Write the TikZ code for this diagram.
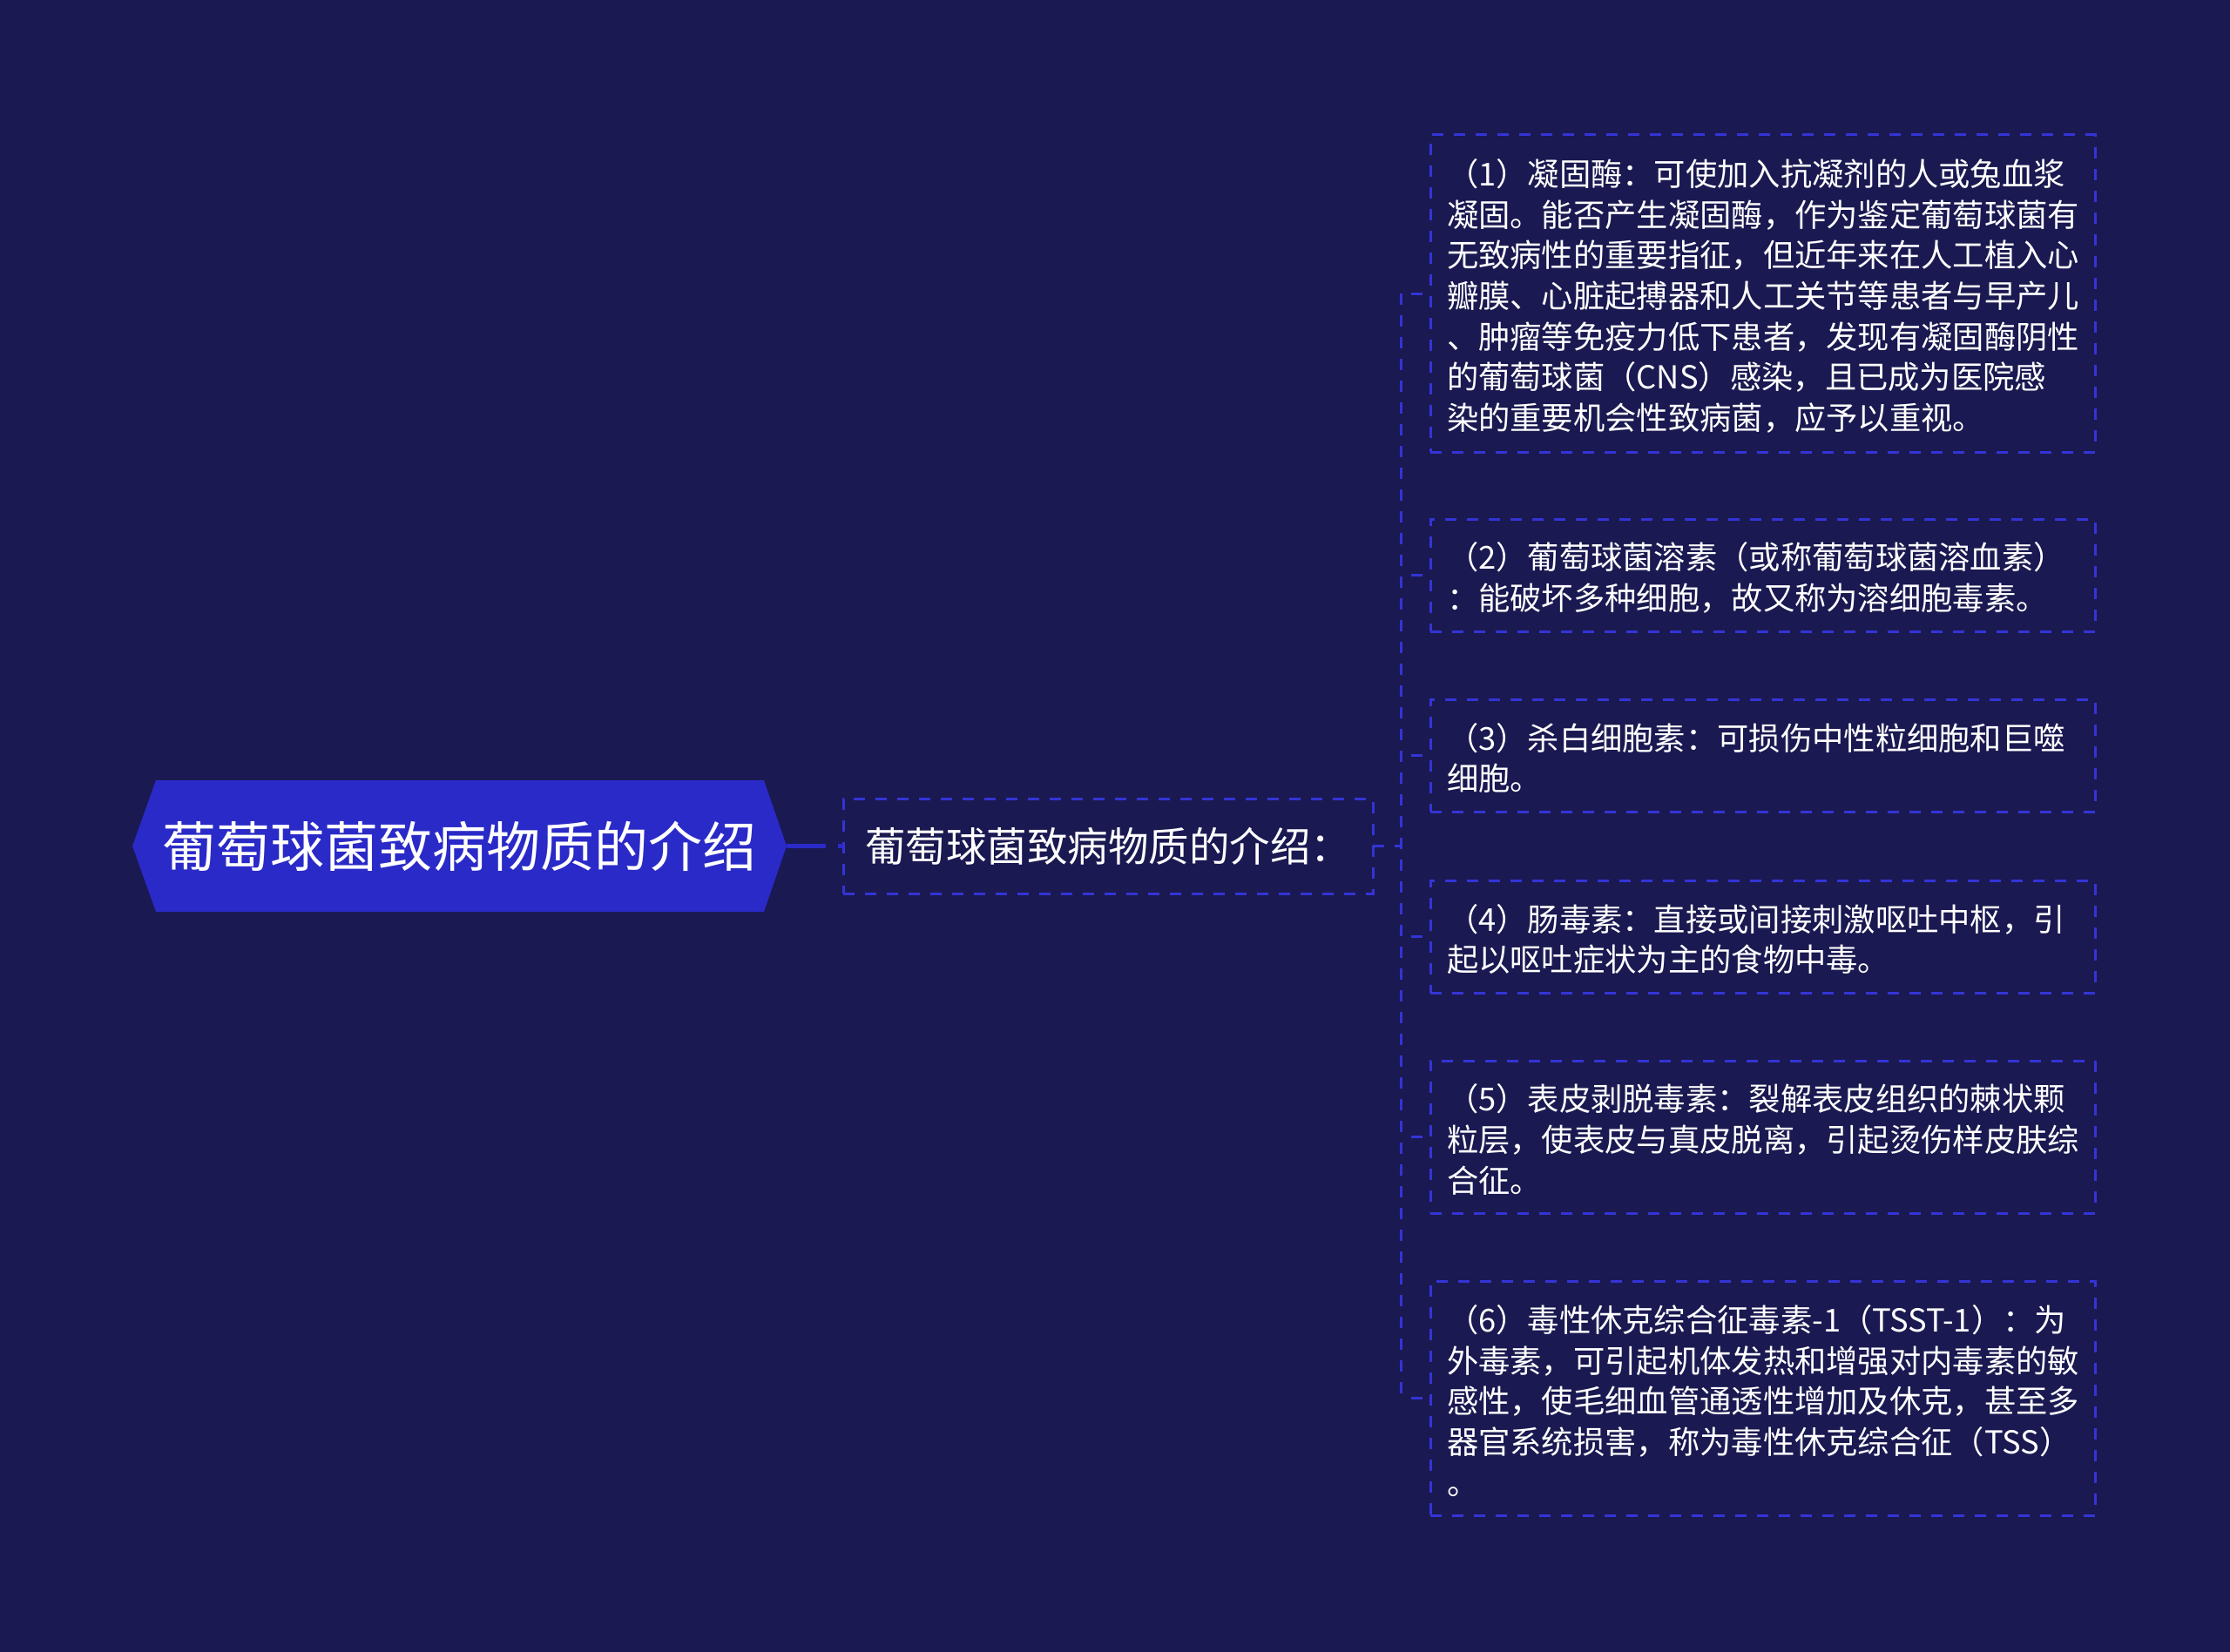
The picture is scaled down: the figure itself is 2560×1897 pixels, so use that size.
\documentclass[tikz,border=0pt]{standalone}
\usepackage{fontspec}
\setmainfont{Noto Sans CJK SC}
\usetikzlibrary{backgrounds}
\definecolor{bgc}{RGB}{26,25,81}
\definecolor{rootc}{RGB}{42,42,200}
\definecolor{dashc}{RGB}{52,52,214}
\newcommand\firststrut{\rule{0pt}{37pt}}
\tikzset{
  dashline/.style={draw=dashc, line width=3pt, dash pattern=on 13pt off 12pt},
  roottext/.style={text=white, inner sep=0pt, outer sep=0pt, minimum width=751pt, minimum height=151pt, font=\fontsize{62pt}{74pt}\selectfont},
  subbox/.style={dashline, text=white, inner sep=0pt, outer sep=0pt, minimum width=608pt, minimum height=109pt, font=\fontsize{46.5pt}{56pt}\selectfont},
  childbox/.style={dashline, text=white, align=left, text width=725pt, inner xsep=19pt, inner ysep=0pt, outer sep=0pt, minimum width=763pt, anchor=north west, font=\fontsize{36.3pt}{46.7pt}\selectfont},
  rootconn/.style={draw=rootc, line width=5pt, dash pattern=on 45pt off 14pt on 6pt off 10pt},
  stub/.style={dashline, dash phase=13pt}
}
\begin{document}
\begin{tikzpicture}[x=1pt,y=-1pt]
\useasboundingbox (0,0) rectangle (2560,1897);
\node[roottext] (root) at (527.5,971.5) {葡萄球菌致病物质的介绍};
\node[subbox] (sub) at (1272,971.5) {葡萄球菌致病物质的介绍：};
\node[childbox, minimum height=364pt] (c1) at (1642,155) {\firststrut（1）凝固酶：可使加入抗凝剂的人或兔血浆\\
凝固。能否产生凝固酶，作为鉴定葡萄球菌有\\
无致病性的重要指征，但近年来在人工植入心\\
瓣膜、心脏起搏器和人工关节等患者与早产儿\\
、肿瘤等免疫力低下患者，发现有凝固酶阴性\\
的葡萄球菌（CNS）感染，且已成为医院感\\
染的重要机会性致病菌，应予以重视。};
\node[childbox, minimum height=129pt] (c2) at (1642,596) {\firststrut（2）葡萄球菌溶素（或称葡萄球菌溶血素）\\
：能破坏多种细胞，故又称为溶细胞毒素。};
\node[childbox, minimum height=129pt] (c3) at (1642,803) {\firststrut（3）杀白细胞素：可损伤中性粒细胞和巨噬\\
细胞。};
\node[childbox, minimum height=129pt] (c4) at (1642,1011) {\firststrut（4）肠毒素：直接或间接刺激呕吐中枢，引\\
起以呕吐症状为主的食物中毒。};
\node[childbox, minimum height=175pt] (c5) at (1642,1218) {\firststrut（5）表皮剥脱毒素：裂解表皮组织的棘状颗\\
粒层，使表皮与真皮脱离，引起烫伤样皮肤综\\
合征。};
\node[childbox, minimum height=269pt] (c6) at (1642,1471) {\firststrut（6）毒性休克综合征毒素-1（TSST-1）：为\\
外毒素，可引起机体发热和增强对内毒素的敏\\
感性，使毛细血管通透性增加及休克，甚至多\\
器官系统损害，称为毒性休克综合征（TSS）\\
。};
\coordinate (sp) at (1608,971.5);
\draw[rootconn] (root.east) -- (sub.west);
\draw[dashline] (sub.east) -- (sp);
\draw[dashline] (c1.west -| sp) -- (c6.west -| sp);
\foreach \i in {1,...,6} {\draw[stub] (c\i.west -| sp) -- (c\i.west);}
\begin{scope}[on background layer]
\fill[bgc] (0,0) rectangle (2560,1897);
\fill[rootc] (root.west) -- ([xshift=27pt]root.north west) -- ([xshift=-26pt]root.north east) -- (root.east) -- ([xshift=-26pt]root.south east) -- ([xshift=27pt]root.south west) -- cycle;
\end{scope}
\end{tikzpicture}
\end{document}
